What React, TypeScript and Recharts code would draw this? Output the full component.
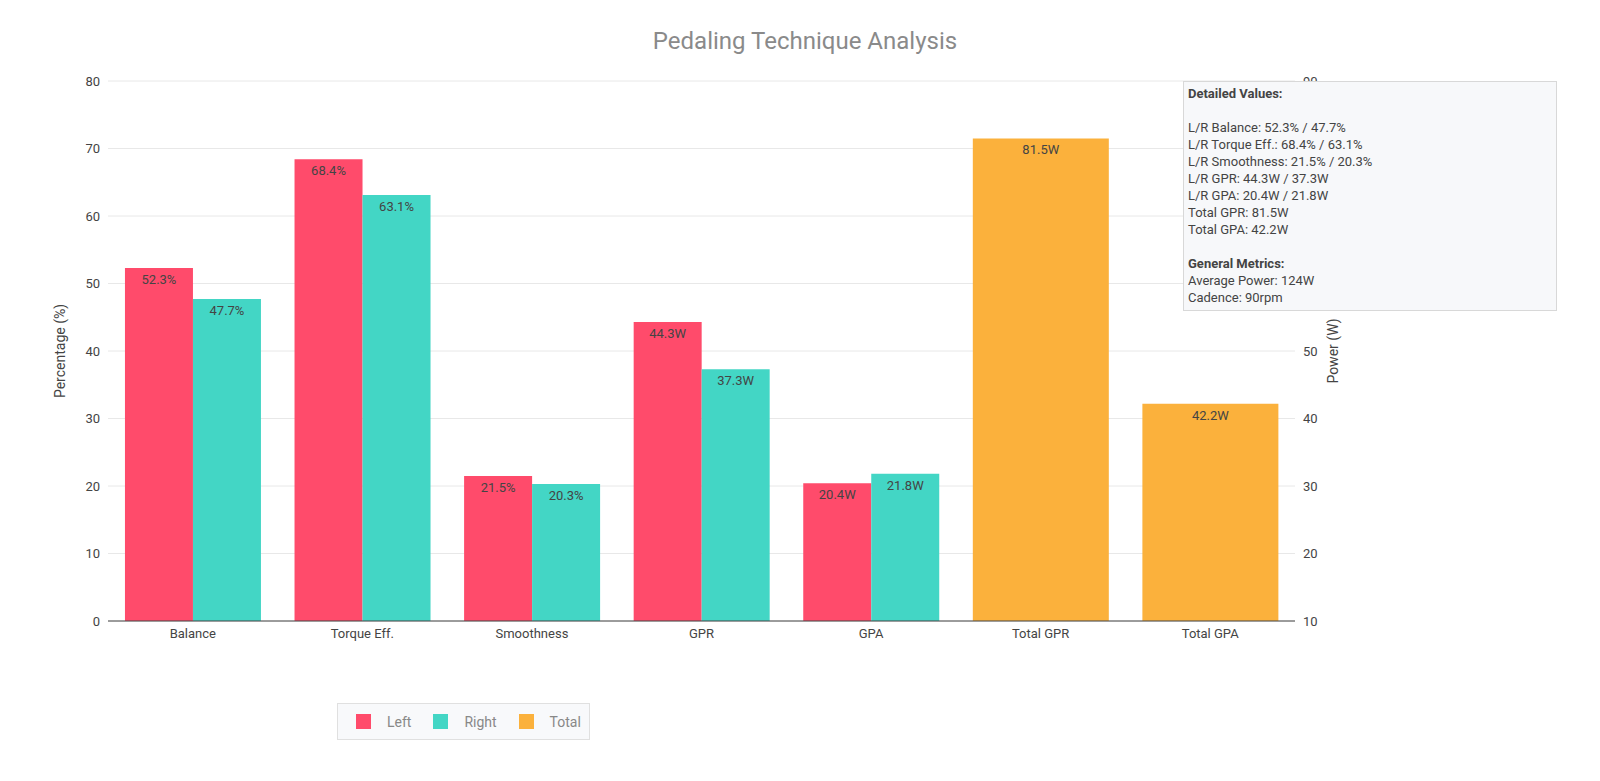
import { BarChart, Bar, XAxis, YAxis, CartesianGrid, LabelList } from 'recharts';

const categories = ['Balance', 'Torque Eff.', 'Smoothness', 'GPR', 'GPA', 'Total GPR', 'Total GPA'];
const leftValues = [52.3, 68.4, 21.5, 44.3, 20.4, null, null];
const rightValues = [47.7, 63.1, 20.3, 37.3, 21.8, null, null];
const totalValues = [null, null, null, null, null, 81.5, 42.2];
const units = ['%', '%', '%', 'W', 'W', 'W', 'W'];
const leftTicks = [0, 10, 20, 30, 40, 50, 60, 70, 80];
const rightTicks = [10, 20, 30, 40, 50, 60, 70, 80, 90];
const infoLines = [
  'L/R Balance: 52.3% / 47.7%',
  'L/R Torque Eff.: 68.4% / 63.1%',
  'L/R Smoothness: 21.5% / 20.3%',
  'L/R GPR: 44.3W / 37.3W',
  'L/R GPA: 20.4W / 21.8W',
  'Total GPR: 81.5W',
  'Total GPA: 42.2W',
];
const generalLines = ['Average Power: 124W', 'Cadence: 90rpm'];
const legendItems = [
  { name: 'Left', color: '#FF4B6B' },
  { name: 'Right', color: '#43D6C5' },
  { name: 'Total', color: '#FBB13C' },
];

const data = categories.map((c, i) => ({
  name: c,
  left: leftValues[i],
  right: rightValues[i],
  total: totalValues[i],
  unit: units[i],
}));

const font = 'Roboto, "Open Sans", sans-serif';

const makeLabel = (fixedUnit?: string) => (props: any) => {
  const { x, y, width, value, index } = props;
  if (value == null) return null;
  const unit = fixedUnit ?? data[index]?.unit ?? '';
  return (
    <text x={x + width / 2} y={y + 16} textAnchor="middle" fontSize={13} fill="#444" fontFamily={font}>
      {`${value}${unit}`}
    </text>
  );
};

export default function App() {
  return (
    <div style={{ position: 'relative', margin: -8, width: 1600, height: 781, background: '#fff', fontFamily: font }}>
      <div style={{ position: 'absolute', top: 27, left: 0, width: 1610, textAlign: 'center', fontSize: 24, color: '#8a8a8a' }}>
        Pedaling Technique Analysis
      </div>
      <BarChart
        width={1600}
        height={660}
        data={data}
        margin={{ top: 81, right: 245, left: 48, bottom: 0 }}
        barCategoryGap="10%"
        barGap={0}
        style={{ position: 'absolute', top: 0, left: 0 }}
      >
        <CartesianGrid vertical={false} stroke="#e8e8e8" yAxisId="l" />
        <XAxis xAxisId="a" dataKey="name" tickLine={false} stroke="#444" tick={{ fill: '#444', fontSize: 13 }} height={39} />
        <XAxis xAxisId="b" dataKey="name" hide />
        <YAxis yAxisId="l" domain={[0, 80]} ticks={leftTicks} axisLine={false} tickLine={false} width={60}
          tick={{ fill: '#444', fontSize: 13 }}
          label={{ value: 'Percentage (%)', angle: -90, position: 'insideLeft', offset: 12, fill: '#444', fontSize: 14, style: { textAnchor: 'middle' } }} />
        <YAxis yAxisId="r" orientation="right" domain={[10, 90]} ticks={rightTicks} axisLine={false} tickLine={false} width={60}
          tick={{ fill: '#444', fontSize: 13 }}
          label={{ value: 'Power (W)', angle: -90, position: 'insideRight', offset: 22, fill: '#444', fontSize: 14, style: { textAnchor: 'middle' } }} />
        <Bar xAxisId="a" yAxisId="l" dataKey="left" fill="#FF4B6B" isAnimationActive={false}>
          <LabelList dataKey="left" content={makeLabel()} />
        </Bar>
        <Bar xAxisId="a" yAxisId="l" dataKey="right" fill="#43D6C5" isAnimationActive={false}>
          <LabelList dataKey="right" content={makeLabel()} />
        </Bar>
        <Bar xAxisId="b" yAxisId="r" dataKey="total" fill="#FBB13C" isAnimationActive={false}>
          <LabelList dataKey="total" content={makeLabel('W')} />
        </Bar>
      </BarChart>
      <div style={{ position: 'absolute', left: 1183, top: 81, width: 364, height: 222, background: '#f7f8fa', border: '1px solid #d8d8d8', padding: '3px 4px', fontSize: 13, color: '#444', lineHeight: '17px' }}>
        <div style={{ fontWeight: 'bold' }}>Detailed Values:</div>
        <div style={{ height: 17 }} />
        {infoLines.map((l) => <div key={l}>{l}</div>)}
        <div style={{ height: 17 }} />
        <div style={{ fontWeight: 'bold' }}>General Metrics:</div>
        {generalLines.map((l) => <div key={l}>{l}</div>)}
      </div>
      <div style={{ position: 'absolute', left: 337, top: 703, width: 253, height: 37, border: '1px solid #e0e0e0', background: '#f8f9fb', display: 'flex', alignItems: 'center', paddingLeft: 18, boxSizing: 'border-box', fontSize: 14, color: '#888' }}>
        {legendItems.map((it) => (
          <div key={it.name} style={{ display: 'flex', alignItems: 'center', marginRight: 22 }}>
            <span style={{ width: 15, height: 15, background: it.color, display: 'inline-block', marginRight: 16 }} />
            {it.name}
          </div>
        ))}
      </div>
    </div>
  );
}
